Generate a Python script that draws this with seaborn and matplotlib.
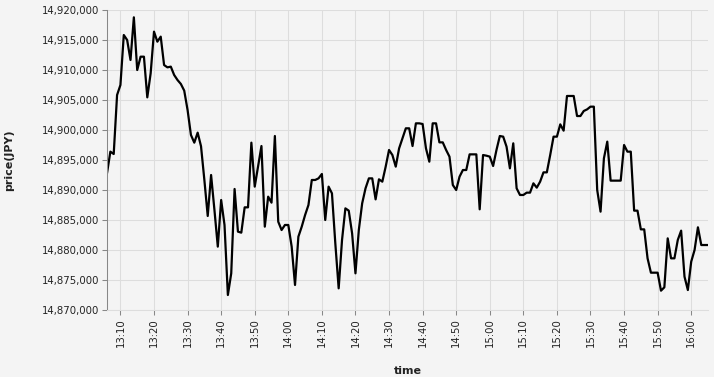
import numpy as np
import pandas as pd
import matplotlib
matplotlib.use("Agg")
import matplotlib.pyplot as plt
import matplotlib.dates as mdates
from matplotlib.ticker import MultipleLocator, StrMethodFormatter
import seaborn as sns

start_time = "2024-01-01 13:06"
n_minutes = 180
price = [
    14892780, 14896390, 14896000, 14905830, 14907500, 14915830, 14915000, 14911670, 14918780, 14910000,
    14912220, 14912220, 14905440, 14909440, 14916390, 14914720, 14915560, 14910830, 14910440, 14910560,
    14909170, 14908330, 14907670, 14906560, 14903330, 14899170, 14897890, 14899560, 14897300, 14891670,
    14885670, 14892500, 14886670, 14880560, 14888330, 14884170, 14872500, 14876110, 14890170, 14883060,
    14882890, 14887110, 14887110, 14897890, 14890560, 14893890, 14897330, 14883890, 14888890, 14887890,
    14899000, 14884720, 14883330, 14884170, 14884170, 14880560, 14874170, 14882220, 14883890, 14885830,
    14887500, 14891670, 14891670, 14891940, 14892670, 14885000, 14890560, 14889440, 14881110, 14873610,
    14881670, 14886940, 14886560, 14882780, 14876110, 14883330, 14887780, 14890280, 14891940, 14891940,
    14888440, 14891780, 14891390, 14893890, 14896670, 14895830, 14893890, 14896940, 14898610, 14900280,
    14900280, 14897330, 14901110, 14901110, 14901000, 14896940, 14894720, 14901110, 14901110, 14897940,
    14897940, 14896670, 14895560, 14890830, 14890000, 14892220, 14893330, 14893330, 14895940, 14895940,
    14895940, 14886780, 14895830, 14895720, 14895560, 14894000, 14896670, 14899000, 14898890, 14897220,
    14893610, 14897780, 14890280, 14889170, 14889170, 14889560, 14889560, 14891110, 14890390, 14891390,
    14892940, 14892940, 14895830, 14898890, 14898890, 14900940, 14899890, 14905670, 14905670, 14905670,
    14902330, 14902330, 14903170, 14903440, 14903890, 14903890, 14890000, 14886390, 14895280, 14898060,
    14891560, 14891560, 14891560, 14891560, 14897500, 14896390, 14896390, 14886560, 14886560, 14883440,
    14883440, 14878610, 14876220, 14876220, 14876220, 14873220, 14873780, 14881940, 14878610, 14878610,
    14881670, 14883220, 14875560, 14873330, 14878060, 14880000, 14883780, 14880830, 14880830, 14880830,
]
y_min, y_max = 14870000, 14920000

time = pd.date_range(start_time, periods=n_minutes, freq="min")
df = pd.DataFrame({"time": time, "price": price})

sns.set_theme(style="white")
plt.rcParams["font.family"] = ["DejaVu Sans"]
bg = "#f4f4f4"
fig = plt.figure(figsize=(7.14, 3.77), dpi=100, facecolor=bg)
ax = fig.add_axes([107 / 714, 1 - 310 / 377, (708 - 107) / 714, 300 / 377])
ax.set_facecolor(bg)

sns.lineplot(data=df, x="time", y="price", ax=ax, color="black", linewidth=1.6)

ax.set_xlim(df["time"].iloc[0], df["time"].iloc[-1])
ax.set_ylim(y_min, y_max)
ax.yaxis.set_major_locator(MultipleLocator(5000))
ax.yaxis.set_major_formatter(StrMethodFormatter("{x:,.0f}"))
ax.xaxis.set_major_locator(mdates.MinuteLocator(byminute=range(0, 60, 10)))
ax.xaxis.set_major_formatter(mdates.DateFormatter("%H:%M"))

ax.grid(True, color="#dddddd", linewidth=0.75)
ax.set_axisbelow(True)
for s in ["top", "right"]:
    ax.spines[s].set_visible(False)
ax.spines["left"].set_color("#888888")
ax.spines["left"].set_linewidth(0.75)
ax.spines["bottom"].set_color("#dddddd")
ax.spines["bottom"].set_linewidth(0.75)

ax.tick_params(axis="both", which="major", length=3.6, width=0.75, color="#888888",
               labelsize=7.3, labelcolor="#222222", pad=2, left=True, bottom=True)
plt.setp(ax.get_xticklabels(), rotation=90)

ax.set_xlabel("time", fontsize=8, fontweight="bold", color="#222222", labelpad=14)
ax.set_ylabel("price(JPY)", fontsize=8, fontweight="bold", color="#222222", labelpad=20)

fig.savefig("out.png", dpi=100, facecolor=bg)
